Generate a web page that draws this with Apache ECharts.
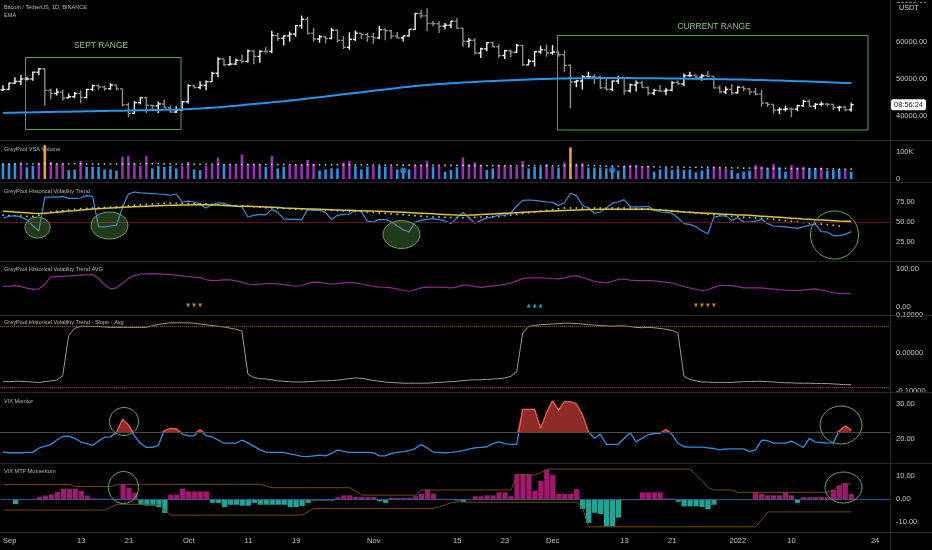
<!DOCTYPE html>
<html><head><meta charset="utf-8">
<script src="https://cdn.jsdelivr.net/npm/echarts@6/dist/echarts.min.js"></script>
<style>html,body{margin:0;padding:0;background:#000;overflow:hidden}#c{width:932px;height:550px}</style>
</head><body><div id="c"></div>
<script>
// ---------- DATA ----------
const startDate = [2021, 7, 31];   // Aug 31 2021 (month 0-based)
const dayCount = 149;              // axis runs to Jan 26 2022
const tickDates = ['2021-09-01','2021-09-13','2021-09-21','2021-10-01','2021-10-11','2021-10-19','2021-11-01','2021-11-15','2021-11-23','2021-12-01','2021-12-13','2021-12-21','2022-01-01','2022-01-10','2022-01-24'];
const tickTexts = ['Sep','13','21','Oct','11','19','Nov','15','23','Dec','13','21','2022','10','24'];

const firstOpen = 46990;
const close = [
47100,48800,49270,49940,49940,51760,52660,46860,46050,46390,
44850,45160,46040,44960,47110,48130,47760,47300,48300,47260,
42990,40690,43560,44880,42840,42690,43210,42200,41030,41520,
43790,48140,47640,48200,49220,51470,55320,53790,53950,54950,
54660,57480,56000,57370,57350,61670,60880,61530,62010,64280,
66000,62210,60690,61290,60850,63080,60330,58450,60590,62250,
61890,61320,61000,63230,62930,61440,61010,61530,63280,67550,
66940,64880,64810,64150,64400,65500,63610,60060,60360,56890,
58050,59710,58620,56250,57540,57140,58960,53730,54700,57270,
57800,56950,57180,56480,53600,49150,49400,50530,50580,50450,
47550,47140,49380,50100,46710,48340,48860,47630,46130,46830,
46680,46880,48940,48610,50820,50840,50430,50800,50640,47540,
46460,47120,46210,47720,47290,46450,45830,43430,43080,41560,
41730,41860,41830,42740,43920,42590,43100,43180,43110,42250,
42380,41660,43000];
const high = [
48250,48900,50400,51000,50550,51900,52920,52920,47400,47350,
47000,45980,46450,46900,47250,48450,48500,48150,48800,48380,
47350,43600,44000,44980,45150,42970,43900,44350,42800,42600,
44100,48500,48350,49300,49500,51890,55750,55330,56100,55450,
56550,57840,57700,57700,58550,62900,62400,61700,62700,64490,
67000,66650,63700,61750,61500,63700,63300,61500,62500,62950,
62300,62400,62400,64270,63500,63150,62600,61550,63300,67800,
68500,69000,65600,65500,65000,65550,66400,63650,61000,60950,
58350,59850,60000,59300,57800,57850,59400,59150,55300,57450,
58850,59200,59050,57400,57600,53900,49700,50900,51900,51200,
50800,50100,49500,50800,50200,48700,49500,49450,47900,47300,
48300,47550,49300,49600,51400,51850,51200,51300,52100,50700,
48150,47900,48550,47950,47990,47550,47500,47050,43750,43150,
42300,42800,42250,43000,44350,44450,43450,43800,43450,43200,
42700,42600,43500];
const low = [
46700,46950,48600,48300,49500,49450,50950,42800,44400,45500,
44100,44750,44750,43370,44700,46720,47050,46750,47050,46850,
42500,39600,40550,43100,40700,41650,40800,42100,40900,40750,
41400,43300,47400,47150,46900,49050,50400,53360,53650,53680,
54100,54400,53900,54300,56800,56850,60150,58950,60000,61300,
63480,62000,60000,59700,59500,60650,59800,58000,57800,60150,
60700,59950,59400,60600,60350,60700,60750,60000,61350,63100,
66300,62800,64100,62300,63350,63600,63400,58600,58400,56500,
55600,57400,58500,55650,55300,55700,56950,53500,53650,53300,
56700,55900,56450,55850,51700,42000,47700,47100,50050,48600,
47300,46850,46650,48650,45700,46300,46550,47500,45500,45550,
46400,45550,46650,48450,47950,50500,50200,49450,50450,47300,
46100,45900,45700,46000,46650,45700,45500,42500,42400,40600,
40500,41200,39650,41250,42450,42300,41750,42600,42600,41550,
41250,41150,41100];
const ema = [
40800,40830,40860,40890,40920,40950,40990,41020,41050,41080,
41110,41140,41170,41200,41230,41260,41290,41320,41350,41380,
41410,41440,41470,41500,41530,41560,41590,41620,41660,41700,
41750,41820,41900,41990,42090,42200,42320,42450,42590,42740,
42890,43040,43190,43340,43490,43640,43800,43960,44130,44300,
44480,44660,44850,45040,45230,45420,45610,45800,45990,46180,
46370,46560,46750,46940,47130,47320,47500,47680,47850,48010,
48160,48300,48430,48550,48660,48770,48870,48970,49060,49150,
49240,49320,49400,49480,49550,49620,49690,49750,49810,49860,
49910,49960,50000,50040,50080,50110,50140,50160,50180,50190,
50200,50200,50200,50190,50180,50170,50160,50150,50140,50120,
50100,50080,50060,50040,50020,50000,49980,49960,49940,49910,
49880,49850,49820,49790,49760,49720,49680,49640,49600,49550,
49500,49450,49400,49350,49300,49240,49180,49120,49060,49000,
48940,48880,48820];

// volume in thousands of BTC
const volumeK = [
55,55,57,61,43,48,60,124,63,55,
55,33,35,66,45,45,45,35,35,31,
82,85,57,48,84,39,48,45,48,39,
48,63,35,33,48,51,79,51,51,51,
90,55,55,55,45,84,39,45,51,51,
51,70,55,31,35,39,39,60,67,48,
35,45,48,48,45,48,35,31,35,51,
51,67,45,48,27,33,43,79,54,61,
51,33,39,51,48,48,45,66,39,45,
45,55,45,42,61,116,57,60,42,42,
42,39,33,31,48,51,51,45,48,27,
35,42,33,39,33,35,25,31,39,45,
42,39,33,21,27,31,51,45,39,55,
42,27,51,42,45,39,39,42,31,33,
35,35,27];
const volumeClass = (
'LLLHLLHCHH'+'HLLHLLLLLL'+'HHHHHLLLLL'+'HHLLHHHLHH'+'HHHHLHLLHH'+
'HHHLLLLHHL'+'LLHLLHLLLH'+'HHLHLLLHHH'+'HLLHHHHHLL'+'LHHLHCHHLL'+
'LLLLLHHHHL'+'LLLLLLLLLH'+'HHLLLLHHLH'+'LLHHHLLHLL'+'LHL').split('');
const volumeMAK = [
55,55,55,55,55,55,55,56,56,56,
56,56,56,56,55,55,55,55,55,55,
55,55,56,56,56,56,56,55,55,55,
54,54,54,54,54,54,54,53,53,53,
53,53,53,53,53,53,53,53,53,52,
52,52,52,52,52,52,52,52,52,52,
52,52,51,51,51,51,51,51,51,50,
50,50,50,50,50,50,50,50,49,49,
49,49,49,49,49,49,49,49,49,49,
49,48,48,48,49,50,50,50,50,49,
48,47,47,46,46,46,46,45,45,45,
44,44,44,44,43,43,43,43,43,42,
42,42,41,41,40,40,40,40,39,39,
39,39,38,38,38,38,38,37,37,37,
36,36,36];
const volumeSignalIdx = [67, 102];

const hvTrend = [
55,57,58,56,53,45,39,81,81,81,
82,79.5,79.5,80,83,82,44,43.8,45,46,
68,85,87.5,86.5,86,85.5,85,84.6,83.4,85,
75,76,75,72,67.5,71.5,74,73.5,70.8,69.6,
69,56.3,58.3,59.6,59,65.8,62,54,53.3,53.3,
53,65.5,64.6,64.6,62,53,58.3,59.6,60,64.6,
63,51,50,53.3,53,50.5,45,40.4,37.5,50,
52.1,53.3,54.2,53,51.5,47.9,55.4,62,55,48.5,
52,55,56,59,58.5,61,70,77,77.5,77,
76,75,74.5,70.8,74,86,83,71,67.5,61,
62.5,67.5,73.5,75,78,69,68.8,69,69.6,65,
62.5,62,61,55,48,47,44,39,35.4,56,
57.5,58,52,55.4,50,50,51,53.3,47.9,45,
44.5,44,43,42,44,46,47,38,37.5,33,
33,34.5,38];
const hvSlow = [
63.5,63.0,62.5,62.0,61.5,61.0,60.6,60.9,61.5,62.2,
62.9,63.6,64.2,64.9,65.6,66.2,66.7,67.1,67.5,67.9,
68.3,68.7,69.0,69.3,69.6,69.9,70.2,70.5,70.8,71.0,
71.2,71.4,71.6,71.7,71.6,71.4,71.1,70.7,70.3,70.0,
69.8,69.6,69.3,69.0,68.7,68.4,68.0,67.6,67.3,67.0,
66.7,66.4,66.2,66.0,65.7,65.4,65.1,64.8,64.6,64.3,
64.1,63.9,63.6,63.4,63.1,62.8,62.5,62.2,61.8,61.4,
61.0,60.6,60.2,59.8,59.4,59.0,58.7,58.5,58.6,58.9,
59.3,59.7,60.1,60.5,60.9,61.3,61.7,62.1,62.5,62.8,
63.1,63.4,63.7,64.0,64.3,64.6,64.9,65.2,65.5,65.7,
65.8,65.9,65.9,65.9,65.9,65.9,65.9,65.8,65.8,65.4,
64.9,64.3,63.7,63.1,62.5,62.1,61.7,61.3,60.9,60.5,
60.1,59.7,59.3,58.9,58.6,58.3,57.8,57.3,56.8,56.3,
55.8,55.3,54.8,54.3,53.8,53.4,52.9,52.5,52.1,51.7,
51.3,51.0,50.8];
const hvFast = [
58.4,58.1,57.8,57.5,57.2,57.0,58.5,60.5,62.5,63.3,
64.1,64.9,65.8,66.7,67.1,67.5,67.9,68.3,68.7,69.0,
69.7,70.3,71.0,71.5,72.0,72.5,73.0,73.5,73.5,73.4,
73.3,73.2,73.1,73.0,72.6,72.2,71.8,71.3,70.9,70.5,
70.0,69.5,69.0,68.5,67.9,67.6,67.2,66.9,66.5,66.2,
65.8,65.6,65.3,65.1,64.8,64.6,64.2,63.9,63.5,63.2,
62.8,62.5,61.9,61.3,60.8,60.2,59.6,59.1,58.5,57.9,
57.4,56.8,56.3,56.1,55.9,55.7,55.5,55.4,55.6,55.9,
56.2,56.4,56.7,57.0,57.9,58.8,59.8,60.7,61.6,62.5,
63.5,64.5,65.5,66.5,67.5,67.5,67.5,67.5,67.5,67.5,
67.5,67.5,67.5,67.5,67.5,67.5,67.0,66.5,66.1,65.6,
65.1,64.6,63.9,63.3,62.6,62.0,61.3,60.6,59.9,59.1,
58.4,57.7,57.0,56.5,56.1,55.6,55.1,54.7,54.2,53.4,
52.6,51.7,50.9,50.0,49.3,48.7,48.0,47.3,46.7,46.0,
45.0];
const hvLevel = 50;

const hvAvg = [
54,54.5,55.5,53,49,46,47,60,78,80,
80,81,82,83,84,84.5,75,58,47,50,
62,74,82,86,86.5,87,86.5,85.5,84.4,83,
81,79.5,78,77,71,69,69.5,70.5,70.5,68,
64,60,58.5,59.5,61,61.7,60.5,58.3,56,54,
56,61,65,64,61.5,60,61,63,64.4,63,
60,57,53.5,52,51.5,50,47,43,41,45,
50,52,52,52,51,49.6,52,57,57,53,
51.3,53,55,56.5,59,62,68,74,75.7,75.7,
75.7,75,74,73.1,76,80,81.8,77,72,67,
64,62.6,67,72,73,70,68.7,68.7,68.7,68,
66,64,62.6,58,53,49.6,46,43,45,51,
56.5,56,55.6,53,50,49.6,49.6,49.6,48,46.5,
45.2,44,43,42.6,44,46,47,44,41,37,
35.5,34.8,34.8];
const avgDownIdx = [31, 32, 33, 116, 117, 118, 119];
const avgUpIdx = [88, 89, 90];

const hvSlope = [
-0.076,-0.076,-0.075,-0.075,-0.076,-0.077,-0.078,-0.076,-0.074,-0.072,
-0.060,0.047,0.065,0.071,0.071,0.070,0.070,0.069,0.068,0.068,
0.068,0.068,0.068,0.068,0.068,0.072,0.076,0.078,0.080,0.080,
0.080,0.080,0.079,0.077,0.075,0.073,0.071,0.069,0.066,0.063,
0.058,-0.056,-0.065,-0.068,-0.069,-0.071,-0.074,-0.075,-0.076,-0.077,
-0.077,-0.076,-0.075,-0.074,-0.074,-0.073,-0.072,-0.070,-0.068,-0.066,
-0.067,-0.070,-0.073,-0.075,-0.077,-0.078,-0.079,-0.080,-0.080,-0.080,
-0.080,-0.080,-0.079,-0.078,-0.077,-0.076,-0.075,-0.073,-0.072,-0.071,
-0.071,-0.070,-0.069,-0.068,-0.066,-0.062,-0.050,0.053,0.070,0.073,
0.075,0.076,0.077,0.078,0.079,0.079,0.078,0.077,0.075,0.074,
0.073,0.072,0.071,0.072,0.072,0.070,0.068,0.067,0.068,0.067,
0.065,0.063,0.060,0.053,-0.062,-0.070,-0.074,-0.077,-0.077,-0.078,
-0.078,-0.078,-0.078,-0.077,-0.076,-0.076,-0.075,-0.075,-0.076,-0.077,
-0.078,-0.079,-0.079,-0.080,-0.080,-0.080,-0.081,-0.081,-0.081,-0.082,
-0.083,-0.084,-0.084];
const slopeUpperLevel = 0.068;
const slopeLowerLevel = -0.088;

const vix = [
16.4,16.2,16.2,16.2,16.3,16.3,17.5,18.1,18.5,19.8,
20.8,20.9,20.3,19.3,18.8,18.3,19.5,20.6,20.7,22.0,
25.7,24.1,21.0,18.9,17.7,17.7,18.3,22.5,23.1,23.0,
21.5,21.0,21.0,22.8,21.0,20.7,19.8,18.9,18.9,18.9,
19.8,19.0,18.0,17.1,16.4,16.3,16.3,16.3,15.9,15.6,
15.2,15.1,15.3,15.5,15.3,16.0,17.0,16.6,16.3,16.3,
16.3,16.3,16.2,15.3,15.3,16.0,16.3,16.5,16.8,17.4,
18.5,17.6,16.4,16.3,16.2,16.3,16.5,16.8,17.2,17.6,
17.7,17.9,18.8,19.3,18.8,18.6,18.6,28.5,28.5,28.5,
23.1,27.5,30.9,28.3,30.7,30.7,30.0,27.0,22.2,20.3,
21.4,18.6,18.6,18.6,20.3,21.9,19.3,20.3,21.3,21.6,
21.7,22.8,21.4,18.9,17.9,17.8,17.8,17.8,17.6,17.4,
17.0,17.3,17.3,17.3,17.3,16.5,17.0,19.8,19.6,18.9,
18.9,18.9,19.5,18.6,17.7,20.3,19.2,19.1,18.9,19.0,
22.4,23.8,22.6];
const vixThreshold = 22;

const momentum = [
0.1,-0.3,-2.2,0,0,0.1,1.0,1.5,2.0,3.0,
4.5,4.5,4.5,3.5,1.5,0.3,0.2,0.1,0.1,0.2,
6.5,4.9,2.6,-2.5,-2.9,-2.9,-3.6,-6.1,1.9,1.9,
4.5,3.3,3.3,3.3,3.3,-1.7,-1.7,-3.5,-2.5,-2.5,
-2.9,-2.9,-1.7,-2.5,-2.5,-2.5,-2.5,-2.5,-3.5,-3.5,
-3.0,-1.7,-0.7,-0.7,-0.7,-0.7,0.8,1.6,1.6,0.9,
0.9,0.9,0.9,-1.0,-1.7,0.5,0.5,0.5,0.5,1.2,
2.3,4.2,2.3,0.1,0.1,0.1,-0.7,-1.2,-0.5,1.2,
1.2,1.6,1.6,2.9,2.9,1.2,10.9,10.9,10.9,3.6,
7.9,12.7,10.5,2.2,2.2,2.2,4.3,-4.3,-10.4,-6.0,
-6.5,-11.9,-11.9,-8.1,-0.5,-0.5,-0.5,2.9,2.9,2.9,
2.9,0.3,0.3,-1.2,-3.2,-3.2,-3.2,-3.5,-4.5,-2.5,
-0.4,-0.4,-0.4,-0.4,-0.4,-0.4,3.0,2.2,1.6,1.6,
1.6,2.9,1.6,-1.7,0.8,0.8,0.8,0.8,0.8,4.0,
5.9,7.0,2.2];
const momUpper = [
6.3,6.3,6.3,6.3,6.3,6.3,6.3,6.3,6.3,6.3,
6.3,6.3,5.4,5.4,5.4,5.4,5.4,5.4,5.4,6.4,
6.4,6.4,6.4,6.4,6.4,6.4,6.4,6.4,6.4,6.4,
6.4,6.4,6.4,6.4,6.4,6.4,6.4,6.4,6.4,6.4,
6.4,6.4,6.4,6.4,5.7,4.9,4.9,4.9,4.9,4.9,
4.9,4.9,4.9,4.9,4.9,4.9,4.9,4.9,4.9,3.3,
1.7,1.7,1.7,1.7,1.7,1.7,1.7,1.7,1.7,1.7,
3.9,3.9,3.9,3.9,3.9,3.9,3.9,3.9,3.9,3.9,
3.9,3.9,3.9,3.9,3.9,3.9,10.4,10.4,10.4,10.4,
11.5,13.0,13.0,13.0,13.0,13.0,13.0,13.0,13.0,13.0,
13.0,13.0,13.0,13.0,13.0,13.0,13.0,13.0,13.0,13.0,
13.0,13.0,13.0,13.0,13.0,13.0,10.5,8.0,5.0,3.9,
3.9,3.9,3.9,2.9,2.9,2.9,2.9,2.9,2.9,2.9,
2.9,2.9,2.9,2.9,2.9,2.9,2.9,2.9,2.9,4.0,
5.9,6.5,6.5];
const momLower = [
-4.8,-4.8,-4.8,-4.8,-4.8,-4.8,-4.8,-4.8,-4.8,-4.8,
-4.8,-4.8,-4.8,-4.8,-4.8,-4.8,-4.8,-4.8,-3.5,-2.3,
-2.3,-2.3,-2.3,-2.3,-2.3,-2.3,-2.3,-5.0,-7.0,-7.0,
-7.0,-7.0,-7.0,-7.0,-7.0,-7.0,-7.0,-7.0,-7.0,-7.0,
-7.0,-7.0,-7.0,-7.0,-7.0,-7.0,-7.0,-7.0,-7.0,-7.0,
-7.0,-5.5,-4.1,-4.1,-4.1,-4.1,-4.1,-4.1,-4.1,-4.1,
-4.1,-4.1,-4.1,-4.1,-4.1,-4.1,-4.1,-4.1,-4.1,-4.1,
-4.1,-4.1,-4.1,-3.5,-2.5,-1.6,-1.3,-1.3,-1.4,-1.4,
-1.4,-1.4,-1.4,-1.4,-1.4,-1.4,-1.4,-1.4,-1.4,-1.4,
-1.4,-1.4,-1.4,-1.4,-1.4,-1.4,-1.4,-4.0,-12.1,-12.1,
-12.1,-12.1,-12.1,-12.1,-12.1,-12.1,-12.1,-12.1,-12.1,-12.1,
-12.1,-12.1,-12.1,-12.1,-12.1,-12.1,-12.1,-12.1,-12.1,-12.1,
-12.1,-12.1,-12.1,-12.1,-12.1,-12.1,-12.1,-9.0,-5.6,-5.6,
-5.6,-5.6,-5.6,-5.6,-5.6,-5.6,-5.6,-5.6,-5.6,-5.6,
-5.6,-5.6,-5.6];

const priceTicks = [40000, 50000, 60000, 70000];
const volumeTicksK = [0, 100];
const hvTicks = [25, 50, 75];
const avgTicks = [0, 100];
const slopeTicks = [-0.1, 0, 0.1];
const vixTicks = [20, 30];
const momTicks = [-10, 0, 10];
const countdownText = '08:56:24';

// ---------- CHART ----------
const FONT = 'Liberation Sans, Arial, sans-serif';
const categories = [];
{
  const d0 = Date.UTC(startDate[0], startDate[1], startDate[2]);
  for (let k = 0; k < dayCount; k++) categories.push(new Date(d0 + k * 86400000).toISOString().slice(0, 10));
}
const panes = [
  {top: 0, height: 140, min: 33500, max: 71200, ticks: priceTicks, fmt: v => v.toFixed(2)},
  {top: 140, height: 42, min: -11, max: 142.9, ticks: volumeTicksK, fmt: v => v ? v + 'K' : '0'},
  {top: 182, height: 80, min: 0, max: 100, ticks: hvTicks, fmt: v => v.toFixed(2)},
  {top: 261, height: 54, min: -21, max: 120, ticks: avgTicks, fmt: v => v.toFixed(2)},
  {top: 315, height: 77, min: -0.1034, max: 0.1008, ticks: slopeTicks, fmt: v => v.toFixed(5)},
  {top: 392, height: 71, min: 13.3, max: 33.4, ticks: vixTicks, fmt: v => v.toFixed(2)},
  {top: 463, height: 69, min: -14.35, max: 15.65, ticks: momTicks, fmt: v => v.toFixed(2)}
];
const lastPane = panes.length - 1;

const ohlc = close.map((c, i) => [i, i ? close[i - 1] : firstOpen, c, low[i], high[i]]);
const volColors = {L: '#2a93e6', H: '#9b2fb5', C: '#f0a020'};
const pairs = arr => arr.map((v, i) => [i, v]);

const chart = echarts.init(document.getElementById('c'), null, {renderer: 'canvas'});
const noMark = {symbol: 'none', label: {show: false}, silent: true};

const option = {
  backgroundColor: '#000',
  animation: false,
  grid: panes.map(p => ({left: 0, right: 42, top: p.top, height: p.height})),
  xAxis: panes.map((p, k) => ({
    type: 'category', gridIndex: k, data: categories, boundaryGap: true,
    axisLine: {show: false}, axisTick: {show: false}, splitLine: {show: false},
    axisLabel: k === lastPane ? {
      show: true, color: '#c4c4c4', fontSize: 7.5, fontFamily: FONT, margin: 5,
      interval: (idx, val) => tickDates.indexOf(val) >= 0,
      formatter: val => tickTexts[tickDates.indexOf(val)] || ''
    } : {show: false}
  })),
  yAxis: panes.map((p, k) => ({
    type: 'value', gridIndex: k, position: 'right', min: p.min, max: p.max,
    axisLine: {show: false}, axisTick: {show: false}, splitLine: {show: false},
    axisLabel: {show: true, customValues: p.ticks, formatter: p.fmt, color: '#c4c4c4', fontSize: 7.5, fontFamily: FONT, margin: 6}
  })),
  visualMap: [{
    show: false, type: 'piecewise', seriesIndex: 14, dimension: 1,
    pieces: [
      {gt: 0, lte: vixThreshold, color: '#2f8fe0'},
      {gt: vixThreshold, lte: 80, color: '#f25a55'}
    ],
    outOfRange: {color: '#2f8fe0'}
  }],
  series: [
    { // 0 price bars
      type: 'custom', xAxisIndex: 0, yAxisIndex: 0, data: ohlc, encode: {x: 0, y: [1, 2, 3, 4]},
      renderItem: function (params, api) {
        const i = api.value(0);
        const o = api.coord([i, api.value(1)]);
        const c = api.coord([i, api.value(2)]);
        const lo = api.coord([i, api.value(3)]);
        const hi = api.coord([i, api.value(4)]);
        const t = api.size([1, 0])[0] * 0.42;
        const col = api.value(2) >= api.value(1) ? '#f2f2f2' : '#8c8c8c';
        const st = {stroke: col, lineWidth: 1.4};
        return {type: 'group', children: [
          {type: 'line', shape: {x1: hi[0], y1: hi[1], x2: lo[0], y2: lo[1]}, style: st},
          {type: 'line', shape: {x1: o[0] - t, y1: o[1], x2: o[0], y2: o[1]}, style: st},
          {type: 'line', shape: {x1: c[0], y1: c[1], x2: c[0] + t, y2: c[1]}, style: st}
        ]};
      }
    },
    { // 1 EMA
      type: 'line', xAxisIndex: 0, yAxisIndex: 0, data: ema, symbol: 'none',
      lineStyle: {color: '#2196f3', width: 2}
    },
    { // 2 volume
      type: 'bar', xAxisIndex: 1, yAxisIndex: 1, data: volumeK, barWidth: 2.6,
      itemStyle: {color: p => volColors[volumeClass[p.dataIndex]]}
    },
    { // 3 volume average dots
      type: 'scatter', xAxisIndex: 1, yAxisIndex: 1, data: pairs(volumeMAK), symbol: 'rect', symbolSize: 1.6,
      itemStyle: {color: '#e8e8e8'}, silent: true
    },
    { // 4 volume signal dots
      type: 'scatter', xAxisIndex: 1, yAxisIndex: 1, data: volumeSignalIdx.map(i => [i, volumeK[i]]),
      symbolSize: 6, itemStyle: {color: '#2a93e6'}
    },
    { // 5 HV trend
      type: 'line', xAxisIndex: 2, yAxisIndex: 2, data: hvTrend, symbol: 'none',
      lineStyle: {color: '#3a8fdc', width: 1.2},
      markLine: Object.assign({data: [{yAxis: hvLevel}], lineStyle: {color: '#5e1818', width: 1, type: 'solid'}}, noMark)
    },
    { // 6 HV slow
      type: 'line', xAxisIndex: 2, yAxisIndex: 2, data: hvSlow, symbol: 'none',
      lineStyle: {color: '#d6c83c', width: 1.5}
    },
    { // 7 HV fast dots
      type: 'scatter', xAxisIndex: 2, yAxisIndex: 2, data: pairs(hvFast), symbol: 'rect', symbolSize: 1.6,
      itemStyle: {color: '#f0f0f0'}, silent: true
    },
    { // 8 HV AVG
      type: 'line', xAxisIndex: 3, yAxisIndex: 3, data: hvAvg, symbol: 'none',
      lineStyle: {color: '#8e2a90', width: 1.2}
    },
    { // 9 down signals
      type: 'scatter', xAxisIndex: 3, yAxisIndex: 3, data: avgDownIdx.map(i => [i, 4]),
      symbol: 'triangle', symbolRotate: 180, symbolSize: 4, itemStyle: {color: '#f2a531'}
    },
    { // 10 up signals
      type: 'scatter', xAxisIndex: 3, yAxisIndex: 3, data: avgUpIdx.map(i => [i, 4]),
      symbol: 'triangle', symbolSize: 4, itemStyle: {color: '#35c3e3'}
    },
    { // 11 slope
      type: 'line', xAxisIndex: 4, yAxisIndex: 4, data: hvSlope, symbol: 'none',
      lineStyle: {color: '#9a9a9a', width: 1},
      markLine: Object.assign({data: [{yAxis: slopeUpperLevel}, {yAxis: slopeLowerLevel}], lineStyle: {color: '#7d5c16', width: 1, type: 'dotted'}}, noMark)
    },
    { // 12 vix base (stack)
      type: 'line', xAxisIndex: 5, yAxisIndex: 5, stack: 'vx', data: vix.map(() => vixThreshold),
      symbol: 'none', lineStyle: {width: 0, opacity: 0}, silent: true
    },
    { // 13 vix excess fill
      type: 'line', xAxisIndex: 5, yAxisIndex: 5, stack: 'vx', data: vix.map(v => Math.max(v - vixThreshold, 0)),
      symbol: 'none', lineStyle: {width: 0, opacity: 0}, areaStyle: {color: '#a8322e', opacity: 0.85}, silent: true
    },
    { // 14 vix line
      type: 'line', xAxisIndex: 5, yAxisIndex: 5, data: pairs(vix), symbol: 'none',
      lineStyle: {width: 1.3},
      markLine: Object.assign({data: [{yAxis: vixThreshold}], lineStyle: {color: '#4a4a4a', width: 1, type: 'solid'}}, noMark)
    },
    { // 15 momentum bars
      type: 'bar', xAxisIndex: 6, yAxisIndex: 6, data: momentum, barCategoryGap: '12%',
      itemStyle: {color: p => p.value >= 0 ? '#a0196c' : '#1fa595'},
      markLine: Object.assign({data: [{yAxis: 0}], lineStyle: {color: '#34509a', width: 1, type: 'solid'}}, noMark)
    },
    { // 16 upper band
      type: 'line', xAxisIndex: 6, yAxisIndex: 6, data: momUpper, symbol: 'none',
      lineStyle: {color: '#6e4c14', width: 1}
    },
    { // 17 lower band
      type: 'line', xAxisIndex: 6, yAxisIndex: 6, data: momLower, symbol: 'none',
      lineStyle: {color: '#6e4c14', width: 1}
    }
  ]
};
chart.setOption(option);

// ---------- annotations / chrome ----------
const SEP = '#262626', GREEN = '#5f9b55', GREENTXT = '#8cc784', TITLE = '#b9b9b9';
const g = [];
[140, 182, 261, 315, 392, 463, 532].forEach(y => g.push({type: 'line', z: 50, shape: {x1: 0, y1: y + 0.5, x2: 932, y2: y + 0.5}, style: {stroke: SEP, lineWidth: 1}}));
g.push({type: 'line', z: 50, shape: {x1: 890.5, y1: 0, x2: 890.5, y2: 550}, style: {stroke: SEP, lineWidth: 1}});
const txt = (x, y, text, size, fill, align) => ({type: 'text', z: 60, x: x, y: y,
  style: {text: text, fill: fill, font: size + 'px ' + FONT, align: align || 'left', verticalAlign: 'middle'}});
g.push(txt(4, 7.5, 'Bitcoin / TetherUS, 1D, BINANCE', 5.6, TITLE));
g.push(txt(4, 15, 'EMA', 5.6, TITLE));
g.push(txt(4, 149, 'GreyPool VSA Volume', 5.6, TITLE));
g.push(txt(4, 191, 'GreyPool Historical Volatility Trend', 5.6, TITLE));
g.push(txt(4, 269, 'GreyPool Historical Volatility Trend AVG', 5.6, TITLE));
g.push(txt(4, 322.5, 'GreyPool Historical Volatility Trend - Slope - Avg', 5.6, TITLE));
g.push(txt(4, 401, 'VIX Monitor', 5.6, TITLE));
g.push(txt(4, 471, 'VIX MTF Momentum', 5.6, TITLE));
// range boxes
g.push({type: 'rect', z: 55, shape: {x: 25.5, y: 57.5, width: 155.5, height: 72}, style: {fill: 'none', stroke: GREEN, lineWidth: 1}});
g.push({type: 'rect', z: 55, shape: {x: 557.5, y: 35.5, width: 310.5, height: 94.5}, style: {fill: 'none', stroke: GREEN, lineWidth: 1}});
g.push(txt(101, 45.5, 'SEPT RANGE', 8.4, GREENTXT, 'center'));
g.push(txt(714, 27, 'CURRENT RANGE', 8.4, GREENTXT, 'center'));
// ellipses
const ell = (cx, cy, rx, ry, filled) => ({type: 'ellipse', z: 55, shape: {cx: cx, cy: cy, rx: rx, ry: ry},
  style: {fill: filled ? 'rgba(90,150,70,0.38)' : 'none', stroke: '#66a85a', lineWidth: 1}});
g.push(ell(37.5, 227.5, 12.5, 10.5, true));
g.push(ell(109.5, 225.5, 18.5, 13.5, true));
g.push(ell(401.5, 234.5, 18.5, 14, true));
g.push(ell(834.5, 235, 24, 24, false));
g.push(ell(124, 421.5, 14.5, 14, false));
g.push(ell(841, 425, 21, 19, false));
g.push(ell(123.5, 487.5, 15, 16, false));
g.push(ell(843.5, 487.5, 18.5, 15.5, false));
// USDT tag
g.push({type: 'rect', z: 58, shape: {x: 891, y: 3, width: 41, height: 10}, style: {fill: '#000'}});
g.push(txt(899, 8.5, 'USDT', 7.2, '#d0d0d0'));
// last price countdown label
const lastIdx = close.length - 1;
const lastPt = chart.convertToPixel({xAxisIndex: 0, yAxisIndex: 0}, [lastIdx, close[lastIdx]]);
const ly = lastPt[1];
g.push({type: 'rect', z: 58, shape: {x: 891, y: ly - 5.5, width: 35, height: 11, r: 2}, style: {fill: '#ffffff'}});
g.push({type: 'text', z: 60, x: 908.5, y: ly, style: {text: countdownText, fill: '#131722', font: '7.4px ' + FONT, align: 'center', verticalAlign: 'middle'}});

chart.setOption({graphic: {elements: g}});
</script>
</body></html>
